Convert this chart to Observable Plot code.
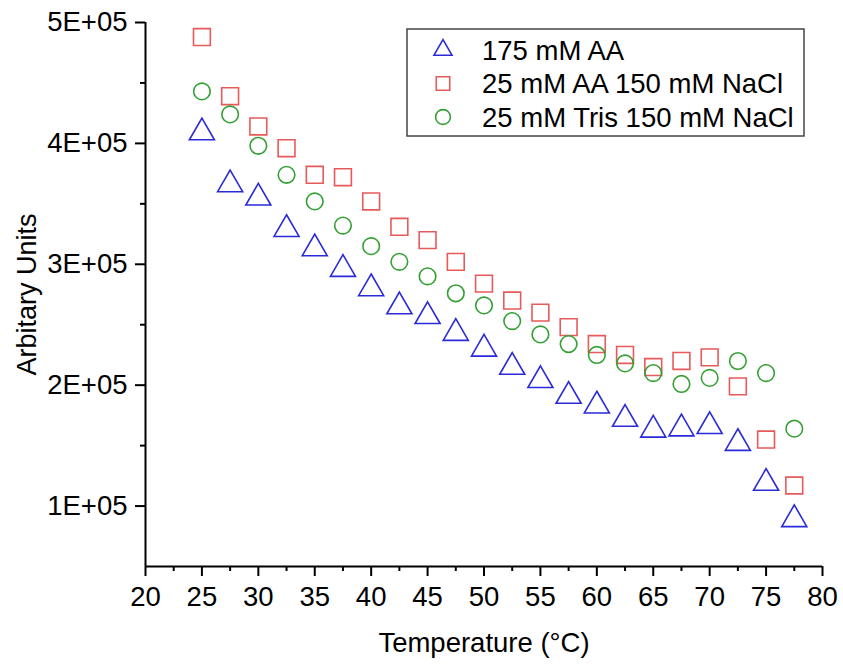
<!DOCTYPE html>
<html>
<head>
<meta charset="utf-8">
<script src="https://cdn.jsdelivr.net/npm/d3@7"></script>
<script src="https://cdn.jsdelivr.net/npm/@observablehq/plot@0.6"></script>
<style>
  html, body { margin: 0; padding: 0; background: #fff; }
  #chart { width: 843px; height: 664px; }
</style>
</head>
<body>
<div id="chart"></div>
<script>
const temperatures = [25, 27.5, 30, 32.5, 35, 37.5, 40, 42.5, 45, 47.5, 50, 52.5, 55, 57.5, 60, 62.5, 65, 67.5, 70, 72.5, 75, 77.5];
const seriesNames = ["175 mM AA", "25 mM AA 150 mM NaCl", "25 mM Tris 150 mM NaCl"];
const aa175 = [4.09, 3.66, 3.55, 3.29, 3.13, 2.96, 2.80, 2.65, 2.57, 2.43, 2.30, 2.15, 2.04, 1.91, 1.83, 1.72, 1.63, 1.64, 1.66, 1.52, 1.19, 0.89];
const aa25NaCl = [4.88, 4.39, 4.14, 3.96, 3.74, 3.72, 3.52, 3.31, 3.20, 3.02, 2.84, 2.70, 2.60, 2.48, 2.34, 2.25, 2.15, 2.20, 2.23, 1.99, 1.55, 1.17];
const tris25NaCl = [4.43, 4.24, 3.98, 3.74, 3.52, 3.32, 3.15, 3.02, 2.90, 2.76, 2.66, 2.53, 2.42, 2.34, 2.25, 2.18, 2.10, 2.01, 2.06, 2.20, 2.10, 1.64];
const yUnit = 1e5;
const xTicks = [20, 25, 30, 35, 40, 45, 50, 55, 60, 65, 70, 75, 80];
const xMinorTicks = [22.5, 27.5, 32.5, 37.5, 42.5, 47.5, 52.5, 57.5, 62.5, 67.5, 72.5, 77.5];
const yTicks = [1e5, 2e5, 3e5, 4e5, 5e5];
const yMinorTicks = [1.5e5, 2.5e5, 3.5e5, 4.5e5];
const yTickLabel = d => `${d / 1e5}E+05`;

const styles = [
  {symbol: "triangle", color: "#2a2ad8", r: 9.3},
  {symbol: "square", color: "#e85a5a", r: 9.5},
  {symbol: "circle", color: "#34a034", r: 8.3}
];
const seriesValues = [aa175, aa25NaCl, tris25NaCl];
const tables = seriesValues.map((vals, i) => temperatures.map((t, j) => ({t, v: vals[j] * yUnit, s: seriesNames[i]})));

const font = "Liberation Sans, Arial, Helvetica, sans-serif";

const plot = Plot.plot({
  width: 843,
  height: 664,
  marginLeft: 145,
  marginRight: 21,
  marginTop: 22,
  marginBottom: 98,
  style: {fontFamily: font, fontSize: "27px", color: "#000", background: "#fff"},
  x: {domain: [20, 80]},
  y: {domain: [0.5e5, 5e5]},
  marks: [
    Plot.axisX({ticks: xTicks, tickSize: 10, tickPadding: 10, strokeWidth: 2, label: null, fontSize: 27.5}),
    Plot.axisX({ticks: xMinorTicks, tickSize: 5, strokeWidth: 2, tickFormat: () => "", label: null}),
    Plot.axisY({ticks: yTicks, tickSize: 10, tickPadding: 8, strokeWidth: 2, tickFormat: yTickLabel, label: null, fontSize: 27.5}),
    Plot.axisY({ticks: yMinorTicks, tickSize: 5, strokeWidth: 2, tickFormat: () => "", label: null}),
    Plot.ruleX([20], {stroke: "#000", strokeWidth: 2}),
    Plot.ruleY([0.5e5], {stroke: "#000", strokeWidth: 2}),
    ...tables.map((data, i) => Plot.dot(data, {
      x: "t", y: "v", symbol: () => styles[i].symbol, r: styles[i].r,
      stroke: styles[i].color, strokeWidth: 1.6, fill: "none"
    })),
    Plot.text(["Temperature (°C)"], {frameAnchor: "bottom", lineAnchor: "middle", textAnchor: "middle", dy: 77, fontSize: 27.5, fill: "#000"}),
    Plot.text(["Arbitary Units"], {frameAnchor: "left", lineAnchor: "middle", textAnchor: "middle", dx: -118, rotate: -90, fontSize: 27, fill: "#000"})
  ]
});

// Legend drawn inside the plot area
const svg = d3.select(plot);
const lg = svg.append("g").attr("font-family", font).attr("text-anchor", "start");
lg.append("rect").attr("x", 407).attr("y", 29).attr("width", 397).attr("height", 107)
  .attr("fill", "#fff").attr("stroke", "#444").attr("stroke-width", 1.5);
const symbolMap = {triangle: d3.symbolTriangle2, square: d3.symbolSquare2, circle: d3.symbolCircle};
const legendR = [8.6, 8.6, 7.4];
seriesNames.forEach((name, i) => {
  const cy = 50 + i * 33.5;
  lg.append("path")
    .attr("transform", `translate(443,${cy})`)
    .attr("d", d3.symbol(symbolMap[styles[i].symbol], Math.PI * legendR[i] * legendR[i])())
    .attr("fill", "none").attr("stroke", styles[i].color).attr("stroke-width", 1.6);
  lg.append("text").attr("x", 482).attr("y", cy).attr("dy", "0.35em")
    .attr("text-anchor", "start").attr("font-size", 27.5).attr("fill", "#000").text(name);
});

document.getElementById("chart").appendChild(plot);
</script>
</body>
</html>
